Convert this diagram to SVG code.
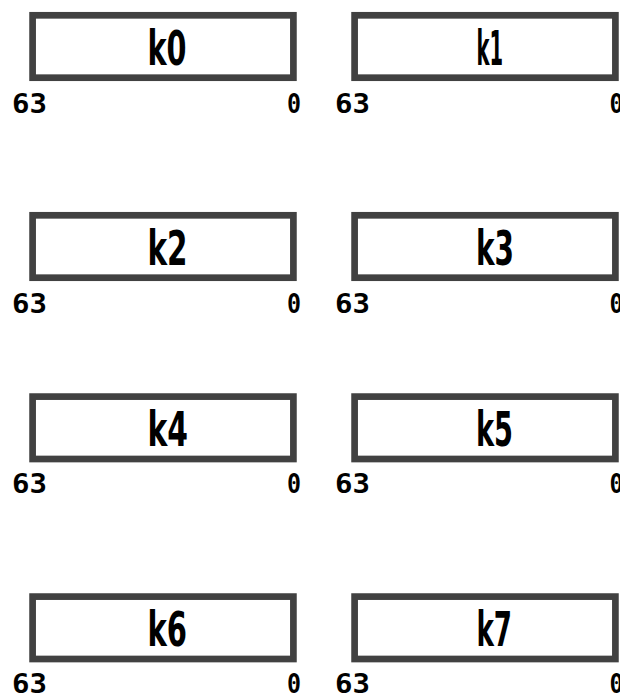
<svg xmlns="http://www.w3.org/2000/svg" width="620" height="697" viewBox="0 0 620 697">
<style>
.box{fill:#ffffff;stroke:#414141;stroke-width:6.7}
.t{font-family:"DejaVu Sans Condensed","DejaVu Sans",sans-serif;font-weight:bold;font-stretch:condensed;font-size:48px;fill:#000}
.n{font-family:"DejaVu Sans Mono",monospace;font-weight:bold;font-size:26px;fill:#000}
</style>
<rect width="620" height="697" fill="#ffffff"/>
<g id="k0">
<rect class="box" x="32.6" y="15.3" width="260.8" height="62.4"/>
<text class="t" x="147.5" y="65" textLength="39" lengthAdjust="spacingAndGlyphs">k0</text>
<text class="n" x="12" y="113" textLength="35" lengthAdjust="spacingAndGlyphs">63</text>
<text class="n" x="287" y="113" textLength="14" lengthAdjust="spacingAndGlyphs">0</text>
</g>
<g id="k1">
<rect class="box" x="354.6" y="15.3" width="260.8" height="62.4"/>
<text class="t" x="476.5" y="65" textLength="26.5" lengthAdjust="spacingAndGlyphs">k1</text>
<text class="n" x="335" y="113" textLength="35" lengthAdjust="spacingAndGlyphs">63</text>
<text class="n" x="609.5" y="113" textLength="14" lengthAdjust="spacingAndGlyphs">0</text>
</g>
<g id="k2">
<rect class="box" x="32.6" y="215.3" width="260.8" height="62.4"/>
<text class="t" x="147.5" y="265" textLength="40" lengthAdjust="spacingAndGlyphs">k2</text>
<text class="n" x="12" y="313" textLength="35" lengthAdjust="spacingAndGlyphs">63</text>
<text class="n" x="287" y="313" textLength="14" lengthAdjust="spacingAndGlyphs">0</text>
</g>
<g id="k3">
<rect class="box" x="354.6" y="215.3" width="260.8" height="62.4"/>
<text class="t" x="476" y="265" textLength="38" lengthAdjust="spacingAndGlyphs">k3</text>
<text class="n" x="335" y="313" textLength="35" lengthAdjust="spacingAndGlyphs">63</text>
<text class="n" x="609.5" y="313" textLength="14" lengthAdjust="spacingAndGlyphs">0</text>
</g>
<g id="k4">
<rect class="box" x="32.6" y="396.6" width="260.8" height="62.4"/>
<text class="t" x="147.5" y="445.5" textLength="40.5" lengthAdjust="spacingAndGlyphs">k4</text>
<text class="n" x="12" y="493" textLength="35" lengthAdjust="spacingAndGlyphs">63</text>
<text class="n" x="287" y="493" textLength="14" lengthAdjust="spacingAndGlyphs">0</text>
</g>
<g id="k5">
<rect class="box" x="354.6" y="396.6" width="260.8" height="62.4"/>
<text class="t" x="476" y="445.5" textLength="37" lengthAdjust="spacingAndGlyphs">k5</text>
<text class="n" x="335" y="493" textLength="35" lengthAdjust="spacingAndGlyphs">63</text>
<text class="n" x="609.5" y="493" textLength="14" lengthAdjust="spacingAndGlyphs">0</text>
</g>
<g id="k6">
<rect class="box" x="32.6" y="596.6" width="260.8" height="62.4"/>
<text class="t" x="147.5" y="645.5" textLength="39.5" lengthAdjust="spacingAndGlyphs">k6</text>
<text class="n" x="12" y="693" textLength="35" lengthAdjust="spacingAndGlyphs">63</text>
<text class="n" x="287" y="693" textLength="14" lengthAdjust="spacingAndGlyphs">0</text>
</g>
<g id="k7">
<rect class="box" x="354.6" y="596.6" width="260.8" height="62.4"/>
<text class="t" x="476.5" y="645.5" textLength="35.5" lengthAdjust="spacingAndGlyphs">k7</text>
<text class="n" x="335" y="693" textLength="35" lengthAdjust="spacingAndGlyphs">63</text>
<text class="n" x="609.5" y="693" textLength="14" lengthAdjust="spacingAndGlyphs">0</text>
</g>
<g id="connectors"></g>
</svg>
